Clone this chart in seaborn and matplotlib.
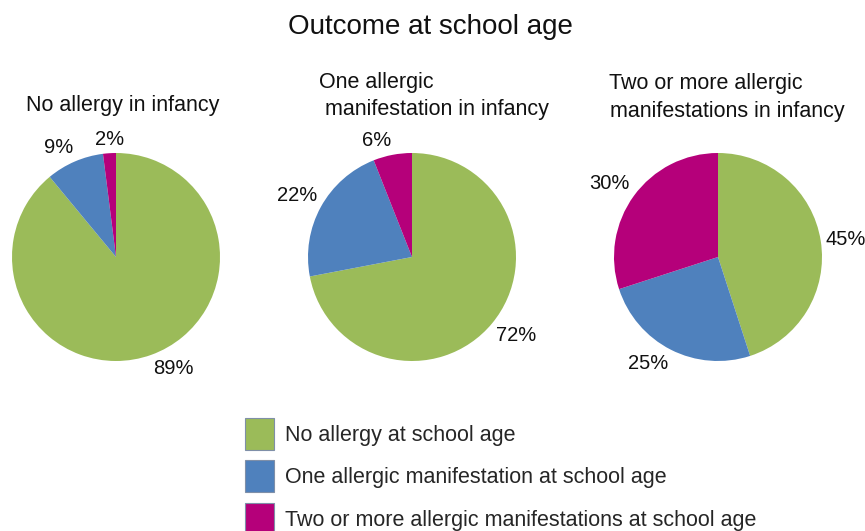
import matplotlib
matplotlib.use("Agg")
import matplotlib.pyplot as plt
from matplotlib.patches import Patch
import seaborn as sns

categories = ["No allergy at school age",
              "One allergic manifestation at school age",
              "Two or more allergic manifestations at school age"]
no_allergy_infancy = [89, 9, 2]
one_allergy_infancy = [72, 22, 6]
two_plus_allergy_infancy = [45, 25, 30]
panel_titles = ["No allergy in infancy",
                "One allergic\nmanifestation in infancy",
                "Two or more allergic\nmanifestations in infancy"]
title = "Outcome at school age"

sns.set_theme(style="white")
plt.rcParams['font.family'] = ['Liberation Sans', 'DejaVu Sans']
colors = sns.color_palette(["#9BBB59", "#4F81BD", "#B5007A"])

W, H = 865, 531
fig = plt.figure(figsize=(W / 100, H / 100), dpi=100)
fig.patch.set_facecolor("white")

r = 104
centers = [(116, 257), (412, 257), (718, 257)]
datasets = [no_allergy_infancy, one_allergy_infancy, two_plus_allergy_infancy]

for (cx, cy), vals in zip(centers, datasets):
    ax = fig.add_axes([(cx - r) / W, (H - cy - r) / H, 2 * r / W, 2 * r / H])
    wedges, texts, autotexts = ax.pie(
        vals, colors=colors, startangle=90, counterclock=False,
        autopct=lambda p: f"{p:.0f}%", pctdistance=1.045,
        textprops=dict(fontsize=14.5, color="#111111"),
        wedgeprops=dict(linewidth=0))
    # "outside end" style: anchor each label on the side facing away from the pie
    for t in autotexts:
        x, y = t.get_position()
        d = (x * x + y * y) ** 0.5
        c, s = x / d, y / d
        t.set_ha("center" if abs(c) < 0.1 else ("left" if c > 0 else "right"))
        t.set_va("center" if abs(s) < 0.3 else ("bottom" if s > 0 else "top"))
        t.set_clip_on(False)
    ax.set_aspect("equal")
    ax.set_xlim(-1, 1)
    ax.set_ylim(-1, 1)
    ax.axis("off")

txt = dict(va="center", fontsize=15.5, color="#111111")
fig.text(430 / W, 1 - 27 / H, title, ha="center", va="center", fontsize=20, color="#111111")
fig.text(123 / W, 1 - 106 / H, panel_titles[0], ha="center", **txt)
# multi-line panel titles, lines placed individually (slight indent as in source)
line_pos = {1: [(319, 82), (325, 110)], 2: [(609, 83), (610, 111)]}
for i, pos in line_pos.items():
    for line, (x, y) in zip(panel_titles[i].split("\n"), pos):
        fig.text(x / W, 1 - y / H, line, ha="left", **txt)

handles = [Patch(facecolor=c, edgecolor="#7F8FA8", linewidth=0.8) for c in colors]
fig.legend(handles, categories, loc="upper left", bbox_to_anchor=(245 / W, 1 - 418 / H),
           frameon=False, fontsize=15.5, handlelength=1.35, handleheight=1.9,
           labelspacing=0.49, handletextpad=0.5, borderaxespad=0, borderpad=0)

fig.savefig("out.png", dpi=100)
